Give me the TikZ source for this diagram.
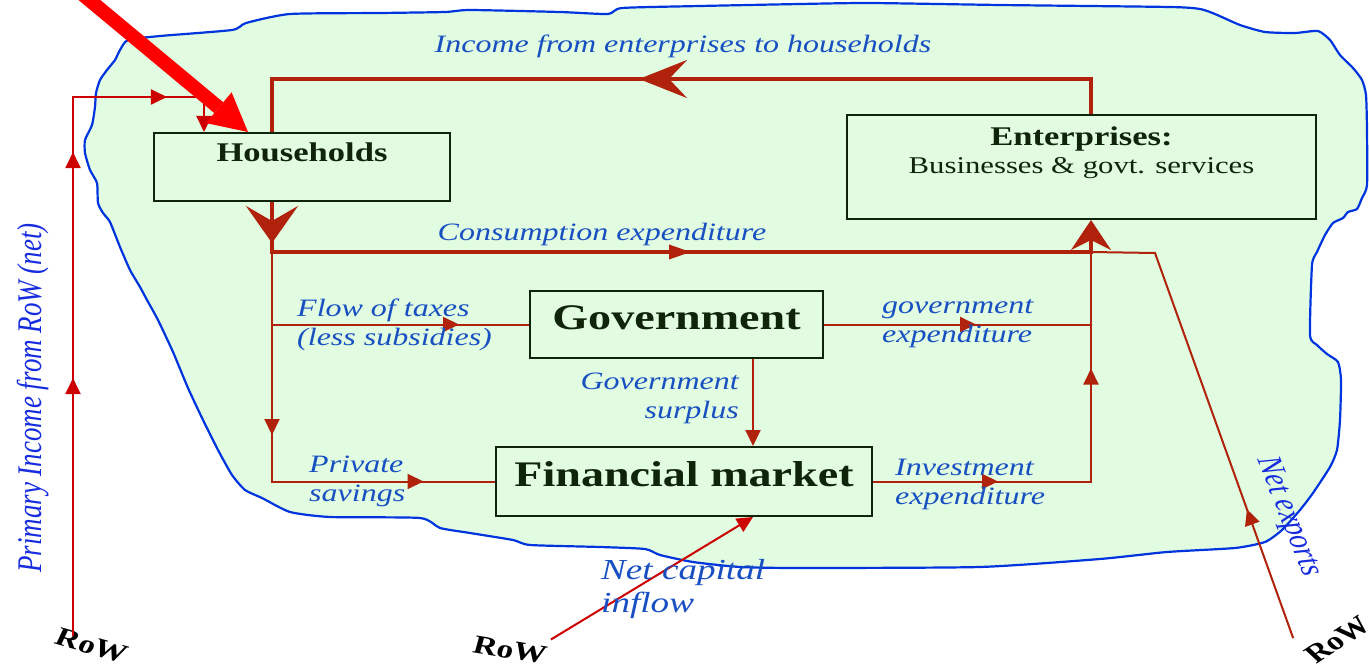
\documentclass[tikz,border=0pt]{standalone}
\usepackage{fontspec}
\setmainfont{Liberation Serif}[FakeStretch=1.28]
\newfontfamily\narrowserif{Liberation Serif}
\usetikzlibrary{arrows.meta,decorations.markings}

\definecolor{flowred}{RGB}{176,34,12}
\definecolor{worldred}{RGB}{205,0,0}
\definecolor{pointred}{RGB}{255,0,0}
\definecolor{flowblue}{RGB}{24,80,194}
\definecolor{worldblue}{RGB}{22,44,222}
\definecolor{shoreblue}{RGB}{0,52,222}
\definecolor{economy}{RGB}{225,252,224}
\definecolor{sectorline}{RGB}{16,36,10}

\tikzset{
	smalltip/.tip={Triangle[length=16pt,width=15pt]},
	flattip/.tip={Triangle[length=22pt,width=14pt]},
	wingtip/.tip={Stealth[length=48pt,width=38pt,inset=18pt]},
	droptip/.tip={Stealth[length=37pt,width=52pt,inset=15pt]},
	risetip/.tip={Stealth[length=30pt,width=40pt,inset=10pt]},
	pointtip/.tip={Triangle[length=38pt,width=40pt,line width=0pt]},
	sector/.style={rectangle, draw=sectorline, line width=2pt, fill=economy, text=sectorline, inner sep=5pt},
	flowtext/.style={text=flowblue, font=\fontsize{25}{29}\selectfont\itshape, inner sep=0pt},
	worldtext/.style={text=worldblue, font=\narrowserif\fontsize{27}{32}\selectfont\itshape, inner sep=0pt, xscale=1.28},
	rowtext/.style={font=\narrowserif\fontsize{26}{30}\selectfont\bfseries, inner xsep=0pt, inner ysep=#1, xscale=1.28},
	thinflow/.style={flowred, line width=2pt},
	thickflow/.style={flowred, line width=3.5pt},
	worldflow/.style={worldred, line width=2pt},
	midtip/.style 2 args={postaction={decorate, decoration={markings, mark=at position #1 with {\arrow{#2}}}}}
}

\begin{document}
\begin{tikzpicture}[x=1pt, y=-1pt]
	\useasboundingbox (0,0) rectangle (1369,666);
	
	%Economy
	\draw[shoreblue, line width=2.2pt, fill=economy] plot[smooth cycle, tension=0.35] coordinates {
		(128,40) (160,36) (232,30) (246,23) (290,14) (380,13) (445,12) (470,10) (560,12) (608,14)
		(622,8) (700,6) (800,4) (870,3) (1000,5) (1170,7) (1200,9) (1215,14) (1240,25) (1265,32)
		(1295,33) (1318,31) (1330,40) (1340,55) (1353,68) (1362,80) (1366,95) (1367,130) (1367,185)
		(1362,198) (1357,209) (1348,212) (1343,218) (1333,223) (1325,235) (1317,252) (1312,265)
		(1310,335) (1317,345) (1327,354) (1338,362) (1341,380) (1340,420) (1337,450) (1330,467)
		(1313,493) (1300,510) (1282,530) (1265,542) (1235,548) (1167,552) (1100,559) (980,567)
		(800,568) (740,567) (693,562) (660,555) (645,549) (600,547) (530,545) (513,540) (470,533)
		(440,528) (420,518) (330,517) (290,512) (262,498) (245,490) (232,475) (218,450) (203,420)
		(188,388) (173,352) (158,320) (147,300) (140,287) (130,270) (120,247) (110,222) (103,213)
		(98,203) (97,183) (90,170) (85,153) (85,140) (92,125) (95,107) (96,93) (100,80) (107,70)
		(115,60) (120,50)};
	
	%Sectors
	\node (hh) at (302,167) [sector, minimum width=296pt, text height=24pt, text depth=34pt,
	font=\fontsize{27}{32}\selectfont\bfseries]{Households};
	\node (ent) at (1081.5,167) [sector, minimum width=469pt, minimum height=104pt]{};
	\node (entname) at (1081.5,127) [anchor=north, align=center, text=sectorline, inner sep=0pt,
	font=\fontsize{24}{28}\selectfont]{{\fontsize{27}{32}\selectfont\bfseries Enterprises:}\\Businesses \& govt. services};
	\node (gov) at (676.5,324.5) [sector, minimum width=293pt, text height=33pt, text depth=24pt,
	font=\fontsize{36}{43}\selectfont\bfseries]{Government};
	\node (fin) at (684,481.5) [sector, minimum width=376pt, text height=34pt, text depth=25pt,
	font=\fontsize{36}{43}\selectfont\bfseries]{Financial market};
	
	%Corners of the flows
	\coordinate (lc) at (272,252);
	\coordinate (rc) at (1091,252);
	\coordinate (toprc) at (1091,79);
	\coordinate (sur) at (753,400);
	\coordinate (picorner) at (73,97);
	\coordinate (pitop) at (204,97);
	\coordinate (nx) at (1155,253);
	\coordinate (pstart) at (75,-12);
	
	%Flows
	\draw[thickflow, midtip={487pt}{wingtip}] (ent.north -| rc) -- (toprc) -| (hh.north -| lc);
	\draw[thickflow, -{risetip}, midtip={41pt}{droptip}, midtip={469pt}{flattip}]
	(hh.south -| lc) -- (lc) -- (rc) -- (ent.south -| rc);
	\draw[thinflow, midtip={183pt}{smalltip}, midtip={381pt}{smalltip}] (lc) -- (lc |- fin.west) -- (fin.west);
	\draw[thinflow, midtip={187pt}{smalltip}] (lc |- gov.west) -- (gov.west);
	\draw[thinflow, midtip={152pt}{smalltip}] (gov.east) -- (rc |- gov.east);
	\draw[thinflow, midtip={125pt}{smalltip}, midtip={331pt}{smalltip}] (fin.east) -- (rc |- fin.east) -- (rc);
	\draw[thinflow, -{smalltip}] (gov.south -| sur) -- (fin.north -| sur);
	
	%Rest of the world
	\node (rowL) at (92,646) [rowtext=0pt, rotate=-20]{RoW};
	\node (rowM) at (510,650) [rowtext=8pt, rotate=-12]{RoW};
	\node (rowR) at (1338,640) [rowtext=15pt, rotate=40]{RoW};
	\draw[worldflow, -{smalltip}, midtip={258pt}{smalltip}, midtip={484pt}{smalltip}, midtip={633pt}{smalltip}]
	(rowL.west -| picorner) -- (picorner) -- (pitop) -- (hh.north -| pitop);
	\draw[worldflow, -{smalltip}] (rowM.north east) -- (fin.south -| sur);
	\draw[thinflow, midtip={137pt}{smalltip}] (rowR.137) -- (nx) -- (rc);
	
	%Labels
	\node (inclbl) at (683,46) [flowtext]{Income from enterprises to households};
	\node (conslbl) at (602,234) [flowtext]{Consumption expenditure};
	\node (taxlbl) at (297,325) [flowtext, anchor=west, align=left]{Flow of taxes\\(less subsidies)};
	\node (gexplbl) at (882,324) [flowtext, anchor=west, align=left]{government\\expenditure};
	\node (surlbl) at (739,398) [flowtext, anchor=east, align=right]{Government\\surplus};
	\node (savlbl) at (309,481) [flowtext, anchor=west, align=left]{Private\\savings};
	\node (invlbl) at (895,484) [flowtext, anchor=west, align=left]{Investment\\expenditure};
	\node (caplbl) at (601,589) [flowtext, anchor=west, align=left,
	font=\fontsize{29}{33}\selectfont\itshape]{Net capital\\inflow};
	\node (pilbl) at (33,398) [worldtext, rotate=90]{Primary Income from RoW (net)};
	\node (nxlbl) at (1288,517) [worldtext, rotate=-72.7]{Net exports};
	
	%Pointer
	\draw[pointred, line width=14pt, -{pointtip}] (pstart) -- ([xshift=-54pt]hh.north);
	
\end{tikzpicture}
\end{document}
